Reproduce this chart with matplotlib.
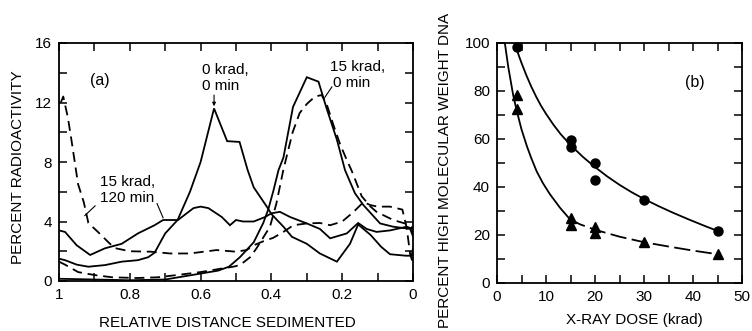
import matplotlib
matplotlib.use("Agg")
import matplotlib.pyplot as plt
from matplotlib.ticker import MultipleLocator

plt.rcParams['font.family'] = ['Liberation Sans', 'DejaVu Sans']

# ---------------- Panel (a) data ----------------
# 0 krad, 0 min (solid, peak near 0.56)
s1_x = [1.0, 0.983, 0.95, 0.917, 0.87, 0.823, 0.777, 0.748, 0.73, 0.70, 0.665, 0.63, 0.60,
        0.562, 0.525, 0.49, 0.467, 0.45, 0.413, 0.40, 0.366, 0.342, 0.30, 0.263, 0.215,
        0.178, 0.155, 0.12, 0.09, 0.065, 0.02, 0.004, 0.0]
s1_y = [1.5, 1.4, 1.1, 0.96, 1.07, 1.3, 1.4, 1.6, 1.9, 3.2, 4.1, 6.0, 8.0,
        11.6, 9.4, 9.35, 7.45, 6.3, 5.0, 4.5, 3.65, 2.97, 2.5, 1.85, 1.3,
        2.5, 3.8, 3.1, 2.3, 1.8, 1.7, 1.7, 2.2]

# tall solid peak near 0.3
s2_x = [1.0, 0.9, 0.8, 0.7, 0.65, 0.6, 0.55, 0.52, 0.489, 0.45, 0.423, 0.409, 0.394, 0.38,
        0.366, 0.339, 0.30, 0.267, 0.244, 0.215, 0.192, 0.164, 0.14, 0.093, 0.056, 0.008, 0.0]
s2_y = [0.15, 0.1, 0.05, 0.1, 0.3, 0.5, 0.7, 0.96, 1.6, 2.6, 3.9, 4.8, 6.1, 7.45,
        8.3, 11.7, 13.7, 13.4, 11.6, 9.5, 7.45, 5.9, 5.1, 3.87, 3.65, 3.5, 3.0]

# 15 krad, 120 min (solid, broad)
s3_x = [1.0, 0.983, 0.95, 0.912, 0.87, 0.823, 0.777, 0.73, 0.706, 0.664, 0.62, 0.60, 0.578,
        0.54, 0.517, 0.50, 0.48, 0.45, 0.418, 0.40, 0.376, 0.347, 0.30, 0.263, 0.234,
        0.187, 0.155, 0.131, 0.103, 0.065, 0.018, 0.0]
s3_y = [3.4, 3.3, 2.4, 1.75, 2.2, 2.5, 3.2, 3.75, 4.1, 4.1, 4.9, 5.0, 4.9,
        4.3, 3.75, 4.1, 4.0, 4.0, 4.3, 4.55, 4.65, 4.3, 3.87, 3.5, 2.87,
        3.2, 3.9, 3.5, 3.3, 3.4, 3.65, 3.5]

# 15 krad, 120 min (dashed)
d1_x = [0.995, 0.988, 0.975, 0.965, 0.946, 0.93, 0.917, 0.89, 0.856, 0.84, 0.80, 0.74,
        0.686, 0.63, 0.555, 0.50, 0.47, 0.45, 0.42, 0.395, 0.366, 0.338, 0.30, 0.263,
        0.234, 0.20, 0.17, 0.14, 0.12, 0.10, 0.065, 0.03, 0.018, 0.008, 0.0]
d1_y = [12.0, 12.4, 11.0, 9.5, 6.5, 5.3, 3.9, 3.3, 2.5, 2.2, 2.0, 1.97,
        1.85, 1.85, 2.08, 1.97, 2.08, 2.4, 2.7, 2.9, 3.3, 3.75, 3.87, 3.9,
        3.75, 4.0, 4.6, 5.3, 5.1, 5.0, 5.0, 4.8, 3.6, 1.8, 1.2]

# 15 krad, 0 min (dashed, peak near 0.27)
d2_x = [1.0, 0.983, 0.946, 0.90, 0.85, 0.78, 0.72, 0.65, 0.60, 0.55, 0.508, 0.489, 0.46,
        0.442, 0.404, 0.386, 0.366, 0.34, 0.32, 0.30, 0.277, 0.258, 0.244, 0.225, 0.206,
        0.19, 0.173, 0.145, 0.12, 0.103, 0.056, 0.023, 0.004, 0.0]
d2_y = [1.3, 1.1, 0.6, 0.4, 0.25, 0.2, 0.25, 0.45, 0.6, 0.8, 0.96, 1.07, 1.6,
        2.2, 3.65, 5.2, 7.5, 10.0, 11.3, 11.9, 12.4, 12.5, 11.9, 10.5, 9.2,
        8.3, 7.4, 5.7, 5.0, 4.65, 4.1, 3.87, 3.65, 3.2]

a_xticks = [1, 0.8, 0.6, 0.4, 0.2, 0]
a_xticklabels = ['1', '0.8', '0.6', '0.4', '0.2', '0']
a_yticks = [0, 4, 8, 12, 16]

# ---------------- Panel (b) data ----------------
circ_dose = [4, 15, 15, 20, 20, 30, 45]
circ_pct = [98.5, 59.6, 56.8, 50, 43, 34.5, 21.7]
tri_dose = [4, 4, 15, 15, 20, 20, 30, 45]
tri_pct = [78.5, 72.5, 27, 24, 23.3, 21, 17, 12]

# fitted curves
circ_fit_x = [3.6, 4, 4.5, 5, 6, 7, 8, 9, 10, 11.5, 13, 15, 17.5, 20, 22.5, 25, 27.5, 30,
              33, 36, 39, 42, 45]
circ_fit_y = [100, 97.5, 94.5, 91.7, 86.5, 81.8, 77.6, 73.8, 70.5, 66.0, 62.0, 57.5, 52.6,
              48.3, 44.4, 40.9, 37.8, 35.0, 32.0, 29.2, 26.6, 24.1, 21.7]
tri_fit_x = [1.6, 2.3, 3.3, 4.0, 5.0, 6.1, 7.0, 8.1, 9.4, 10.8, 12.8, 14.9]
tri_fit_y = [100, 90, 78.3, 72, 64, 57, 52, 46.5, 41.5, 37, 31.5, 26.5]
tri_fit2_x = [14.9, 17, 20, 25, 30, 35, 40, 45]
tri_fit2_y = [26.5, 24.4, 22.2, 19.3, 17, 15.2, 13.5, 12]

fig = plt.figure(figsize=(7.52, 3.31), dpi=100)
W, H = 752, 331
axa = fig.add_axes([59 / W, 1 - 281 / H, (413 - 59) / W, (281 - 43) / H])
axb = fig.add_axes([497 / W, 1 - 283 / H, (742 - 497) / W, (283 - 43) / H])

lw = 1.3
dash = (0, (5.5, 3.2))
axa.plot(s1_x, s1_y, color='black', lw=lw, solid_joinstyle='miter')
axa.plot(s2_x, s2_y, color='black', lw=lw, solid_joinstyle='miter')
axa.plot(s3_x, s3_y, color='black', lw=lw, solid_joinstyle='miter')
axa.plot(d1_x, d1_y, color='black', lw=lw, linestyle=dash)
axa.plot(d2_x, d2_y, color='black', lw=lw, linestyle=dash)

axa.set_xlim(1, 0)
axa.set_ylim(0, 16)
axa.set_xticks(a_xticks)
axa.set_xticklabels(a_xticklabels)
axa.set_yticks(a_yticks)
axa.xaxis.set_minor_locator(MultipleLocator(0.1))
axa.yaxis.set_minor_locator(MultipleLocator(2))

fs = 11
for ax in (axa, axb):
    for sp in ax.spines.values():
        sp.set_linewidth(1.3)
    ax.tick_params(which='both', direction='in', top=True, right=True, width=1.1,
                   labelsize=fs, pad=5)
    ax.tick_params(which='major', length=5.5)
    ax.tick_params(which='minor', length=5.5)

axa.set_xlabel('RELATIVE DISTANCE SEDIMENTED', fontsize=fs)
axa.xaxis.set_label_coords((227 - 59) / 354, (281 - 323) / 238)
axa.xaxis.label.set_va('center')
axa.set_ylabel('PERCENT RADIOACTIVITY', fontsize=fs)
axa.yaxis.set_label_coords((18 - 59) / 354, (281 - 167) / 238)
axa.yaxis.label.set_va('center')

# annotations panel (a)
axa.text(0.884, 13.5, '(a)', fontsize=11.5, ha='center', va='center')
axa.text(0.595, 14.2, '0 krad,', fontsize=fs, ha='left', va='center')
axa.text(0.595, 13.1, '0 min', fontsize=fs, ha='left', va='center')
axa.annotate('', xy=(0.562, 11.75), xytext=(0.562, 12.5),
             arrowprops=dict(arrowstyle='-|>', color='black', lw=0.8,
                             mutation_scale=5, shrinkA=0, shrinkB=0))
axa.text(0.234, 14.36, '15 krad,', fontsize=fs, ha='left', va='center')
axa.text(0.226, 13.3, '0 min', fontsize=fs, ha='left', va='center')
axa.plot([0.229, 0.249], [13.05, 12.35], color='black', lw=0.8)
axa.text(0.884, 6.64, '15 krad,', fontsize=fs, ha='left', va='center')
axa.text(0.884, 5.57, '120 min', fontsize=fs, ha='left', va='center')
axa.plot([0.898, 0.927], [5.05, 4.4], color='black', lw=0.8)
axa.plot([0.723, 0.706], [5.2, 4.25], color='black', lw=0.8)

# ---------------- Panel (b) ----------------
axb.plot(circ_fit_x, circ_fit_y, color='black', lw=lw)
axb.plot(tri_fit_x, tri_fit_y, color='black', lw=lw)
axb.plot(tri_fit2_x, tri_fit2_y, color='black', lw=lw, linestyle=(0, (9, 3)))
axb.plot(circ_dose, circ_pct, 'o', color='black', markersize=6.5, clip_on=False)
axb.plot(tri_dose, tri_pct, '^', color='black', markersize=6.5, clip_on=False)
axb.set_xlim(0, 50)
axb.set_ylim(0, 100)
axb.set_xticks([0, 10, 20, 30, 40, 50])
axb.set_yticks([0, 20, 40, 60, 80, 100])
axb.xaxis.set_minor_locator(MultipleLocator(5))
axb.yaxis.set_minor_locator(MultipleLocator(10))
axb.text(40.4, 83.7, '(b)', fontsize=11.5, ha='center', va='center')

axb.set_xlabel('X-RAY DOSE (krad)', fontsize=fs)
axb.xaxis.set_label_coords((634 - 497) / 245, (283 - 320) / 240)
axb.xaxis.label.set_va('center')
axb.set_ylabel('PERCENT HIGH MOLECULAR WEIGHT DNA', fontsize=fs)
axb.yaxis.set_label_coords((445 - 497) / 245, (283 - 170) / 240)
axb.yaxis.label.set_va('center')

fig.savefig('out.png', dpi=100)
